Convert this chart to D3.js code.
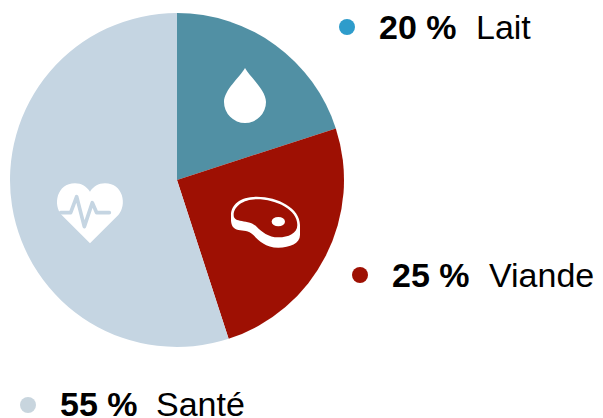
<!DOCTYPE html>
<html>
<head>
<meta charset="utf-8">
<script src="https://cdnjs.cloudflare.com/ajax/libs/d3/7.8.5/d3.min.js"></script>
<style>
  html, body { margin: 0; padding: 0; background: #fff; }
  svg { display: block; }
  text { font-family: "Liberation Sans", Arial, sans-serif; font-size: 34px; fill: #000; }
</style>
</head>
<body>
<svg id="chart" width="603" height="418"></svg>
<script>
const labels = ['Lait', 'Viande', 'Santé'];
const shares = [20, 25, 55];
const sliceColors = ['#5190a4', '#9e1003', '#c5d5e2'];
const dotColors = ['#2e9ccb', '#9e1003', '#c8d5de'];

const svg = d3.select('#chart');

// pie
const pie = d3.pie().sort(null)(shares);
const arc = d3.arc().innerRadius(0).outerRadius(167);
const pieG = svg.append('g').attr('transform', 'translate(177,180)');
pieG.selectAll('path')
  .data(pie)
  .enter().append('path')
  .attr('d', arc)
  .attr('fill', (d, i) => sliceColors[i]);

// drop icon
svg.append('path')
  .attr('transform', 'translate(245,102)')
  .attr('d', 'M0,-34 C5,-25 21,-12 21,0 A21,21 0 0 1 -21,0 C-21,-12 -5,-25 0,-34 Z')
  .attr('fill', '#fff');

// meat icon, drawn in the 3x space of the crop I measured it in
const meat = svg.append('g').attr('transform', 'translate(215,180) scale(0.3333)');
meat.append('path')
  .attr('d', 'M48,105 C48,75 75,50 125,50 C190,50 255,85 255,135 L255,165 C255,190 225,203 190,203 C150,203 130,180 115,165 C100,150 85,153 70,150 C55,148 48,135 48,120 Z')
  .attr('fill', '#fff');
meat.append('path')
  .attr('d', 'M56,105 C56,80 85,58 125,58 C185,58 247,90 247,135 C247,160 220,172 190,172 C160,172 140,155 125,140 C110,125 90,125 75,122 C62,120 56,115 56,105 Z')
  .attr('fill', '#9e1003');
meat.append('ellipse')
  .attr('cx', 190).attr('cy', 125).attr('rx', 20).attr('ry', 14)
  .attr('fill', '#fff');

// heart icon
const heart = svg.append('g').attr('transform', 'translate(40,170) scale(0.3333)');
heart.append('path')
  .attr('d', 'M150,220 L65,135 C38,105 50,40 105,40 C125,40 140,50 150,65 C160,50 175,40 195,40 C250,40 262,105 235,135 Z')
  .attr('fill', '#fff');
heart.append('path')
  .attr('d', 'M62,128 H92 L110,80 L133,170 L157,98 L170,128 H208')
  .attr('fill', 'none')
  .attr('stroke', '#c5d5e2')
  .attr('stroke-width', 11)
  .attr('stroke-linecap', 'round')
  .attr('stroke-linejoin', 'round');

// legend
const legendX = [347, 360, 28];
const legendY = [27, 275, 405];
const baselineY = [39, 287, 416];
const nameX = [129, 129, 128];
const legend = svg.selectAll('g.legend')
  .data(labels)
  .enter().append('g')
  .attr('class', 'legend')
  .attr('transform', (d, i) => `translate(${legendX[i]},${legendY[i]})`);

legend.append('circle')
  .attr('r', 8)
  .attr('fill', (d, i) => dotColors[i]);

legend.append('text')
  .attr('x', 32)
  .attr('y', (d, i) => baselineY[i] - legendY[i])
  .attr('font-weight', 'bold')
  .text((d, i) => shares[i] + ' %');

legend.append('text')
  .attr('x', (d, i) => nameX[i])
  .attr('y', (d, i) => baselineY[i] - legendY[i])
  .text(d => d);
</script>
</body>
</html>
